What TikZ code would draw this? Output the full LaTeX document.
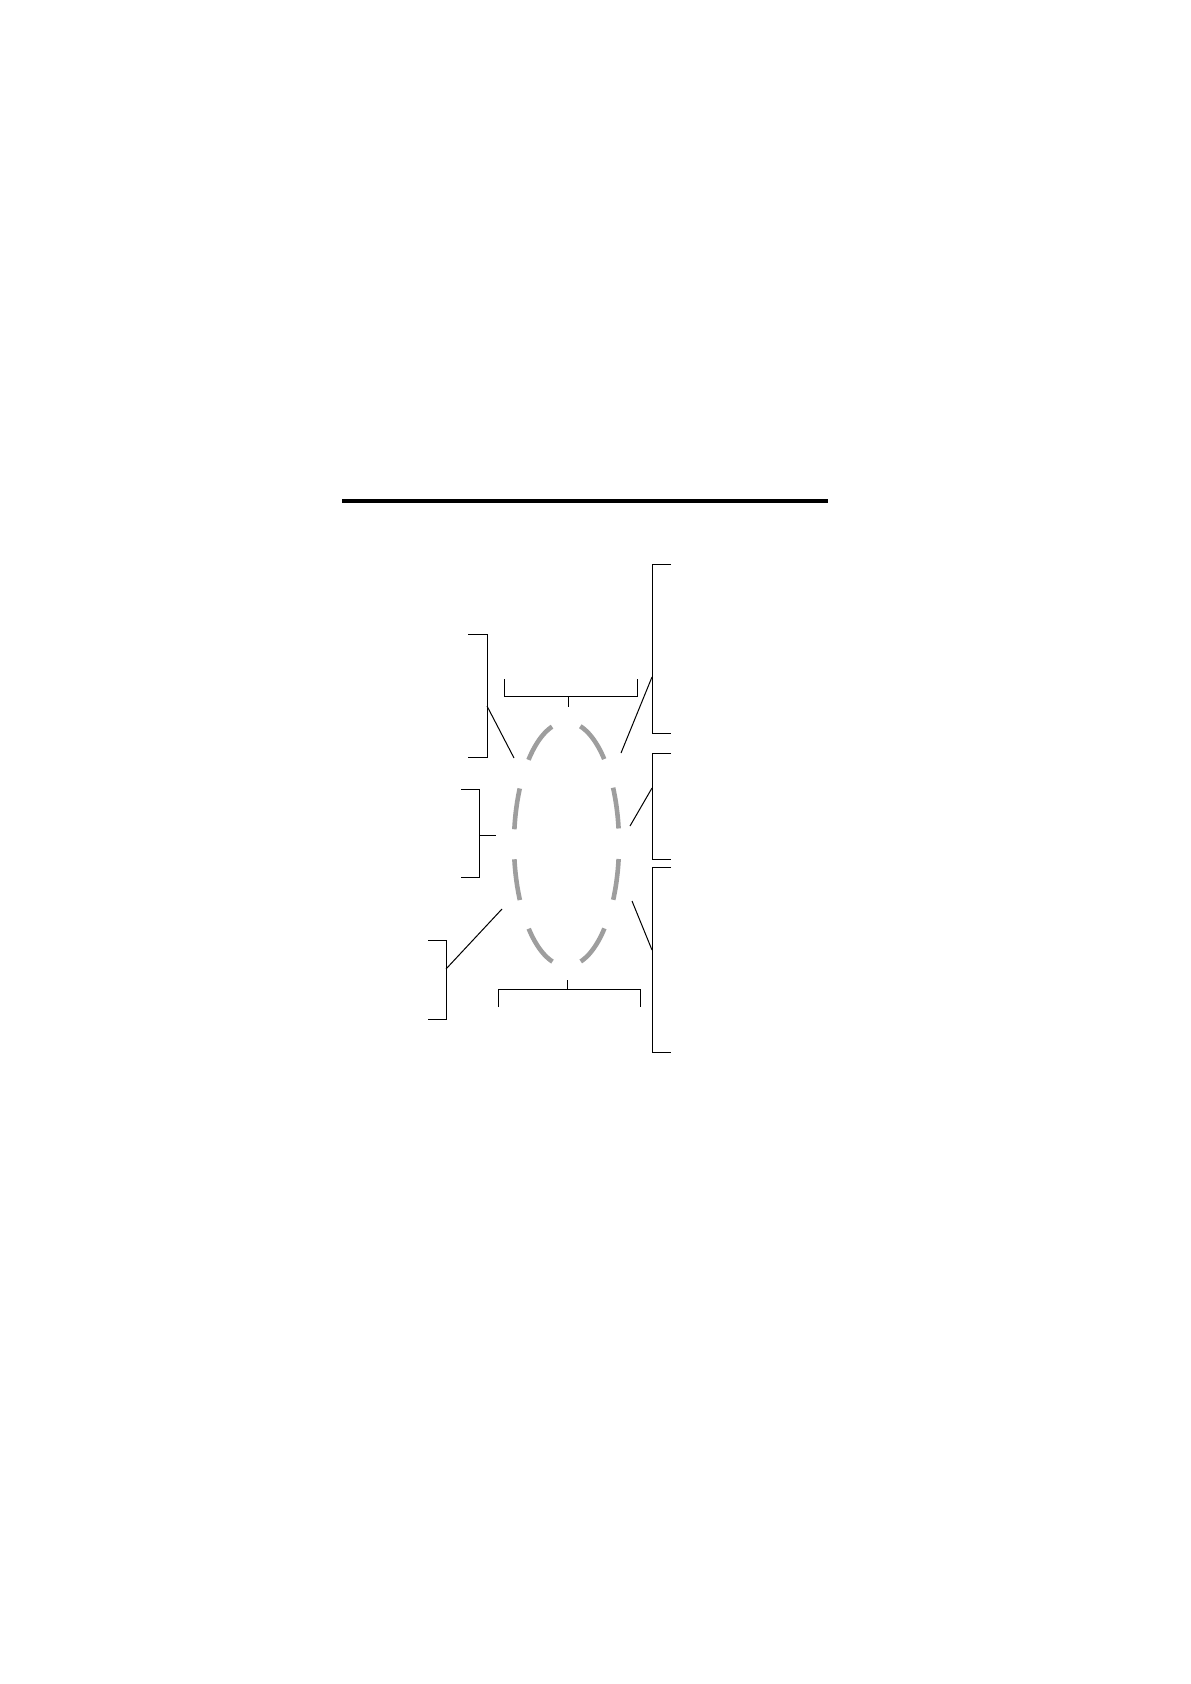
\documentclass[tikz,border=0pt]{standalone}
\usetikzlibrary{positioning}

\tikzset{
    rule/.style = {line width = 2pt},
    brace/.style = {line width = 0.5pt},
    leader/.style = {line width = 0.5pt},
    ring/.style = {draw = black!38, line width = 2.3pt,
        dash pattern = on 20.6pt off 15pt, dash phase = 28.1pt}
}

\begin{document}
\begin{tikzpicture}[x = 0.5pt, y = -0.5pt]
    \useasboundingbox (0 , 0) rectangle (1190 , 1684);

    % heading rule
    \draw[rule] (342 , 501) -- (828 , 501);

    % dashed ring in the middle
    \coordinate (ring) at (566.5 , 844);
    \draw[ring] (ring) ellipse (52.5 and 122);

    % top and bottom brackets
    \coordinate (topTick) at (568 , 707);
    \draw[brace] (504 , 679) -- (504 , 696) -- (637 , 696) -- (637 , 679);
    \draw[brace] (568 , 696) -- (topTick);

    \coordinate (bottomTick) at (567 , 980);
    \draw[brace] (498 , 1007) -- (498 , 989) -- (640 , 989) -- (640 , 1007);
    \draw[brace] (567 , 989) -- (bottomTick);

    % left brackets
    \draw[brace] (468 , 634) -- (487 , 634) -- (487 , 757) -- (468 , 757);
    \coordinate (leftUpper) at (487 , 706);
    \coordinate (ringUpperLeft) at (514 , 758);
    \draw[leader] (leftUpper) -- (ringUpperLeft);

    \draw[brace] (461 , 789) -- (479 , 789) -- (479 , 877) -- (461 , 877);
    \coordinate (leftMiddle) at (479 , 835);
    \coordinate (ringLeft) at (496 , 835);
    \draw[leader] (leftMiddle) -- (ringLeft);

    \draw[brace] (428 , 940) -- (446 , 940) -- (446 , 1019) -- (428 , 1019);
    \coordinate (leftLower) at (446 , 969);
    \coordinate (ringLowerLeft) at (502 , 909);
    \draw[leader] (leftLower) -- (ringLowerLeft);

    % right brackets
    \draw[brace] (671 , 564) -- (652 , 564) -- (652 , 733) -- (671 , 733);
    \coordinate (rightUpper) at (652 , 677);
    \coordinate (ringUpperRight) at (621 , 753);
    \draw[leader] (rightUpper) -- (ringUpperRight);

    \draw[brace] (671 , 753) -- (652 , 753) -- (652 , 859) -- (671 , 859);
    \coordinate (rightMiddle) at (652 , 788);
    \coordinate (ringRight) at (630 , 826);
    \draw[leader] (rightMiddle) -- (ringRight);

    \draw[brace] (671 , 867) -- (652 , 867) -- (652 , 1052) -- (671 , 1052);
    \coordinate (rightLower) at (652 , 950);
    \coordinate (ringLowerRight) at (632 , 901);
    \draw[leader] (rightLower) -- (ringLowerRight);

\end{tikzpicture}
\end{document}
